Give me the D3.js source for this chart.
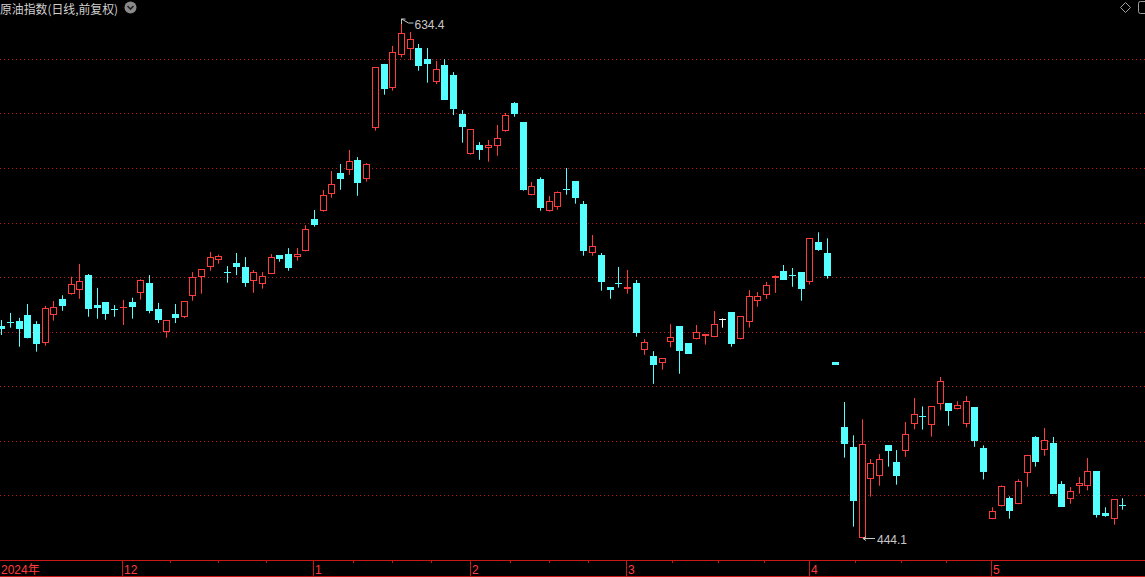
<!DOCTYPE html>
<html><head><meta charset="utf-8">
<script src="https://cdn.jsdelivr.net/npm/d3@7"></script>
<style>html,body{margin:0;padding:0;background:#000;overflow:hidden}</style>
</head><body><svg id="c" width="1145" height="577"></svg>
<script>
const title = "原油指数(日线,前复权)";
const dates = [
"2024-11-12","2024-11-13","2024-11-14","2024-11-15","2024-11-18","2024-11-19","2024-11-20","2024-11-21","2024-11-22","2024-11-25","2024-11-26","2024-11-27","2024-11-28","2024-11-29",
"2024-12-02","2024-12-03","2024-12-04","2024-12-05","2024-12-06","2024-12-09","2024-12-10","2024-12-11","2024-12-12","2024-12-13","2024-12-16","2024-12-17","2024-12-18","2024-12-19","2024-12-20","2024-12-23","2024-12-24","2024-12-25","2024-12-26","2024-12-27","2024-12-30","2024-12-31",
"2025-01-02","2025-01-03","2025-01-06","2025-01-07","2025-01-08","2025-01-09","2025-01-10","2025-01-13","2025-01-14","2025-01-15","2025-01-16","2025-01-17","2025-01-20","2025-01-21","2025-01-22","2025-01-23","2025-01-24","2025-01-27",
"2025-02-05","2025-02-06","2025-02-07","2025-02-10","2025-02-11","2025-02-12","2025-02-13","2025-02-14","2025-02-17","2025-02-18","2025-02-19","2025-02-20","2025-02-21","2025-02-24","2025-02-25","2025-02-26","2025-02-27","2025-02-28",
"2025-03-03","2025-03-04","2025-03-05","2025-03-06","2025-03-07","2025-03-10","2025-03-11","2025-03-12","2025-03-13","2025-03-14","2025-03-17","2025-03-18","2025-03-19","2025-03-20","2025-03-21","2025-03-24","2025-03-25","2025-03-26","2025-03-27","2025-03-28","2025-03-31",
"2025-04-01","2025-04-02","2025-04-03","2025-04-07","2025-04-08","2025-04-09","2025-04-10","2025-04-11","2025-04-14","2025-04-15","2025-04-16","2025-04-17","2025-04-18","2025-04-21","2025-04-22","2025-04-23","2025-04-24","2025-04-25","2025-04-28","2025-04-29","2025-04-30",
"2025-05-06","2025-05-07","2025-05-08","2025-05-09","2025-05-12","2025-05-13","2025-05-14","2025-05-15","2025-05-16","2025-05-19","2025-05-20","2025-05-21","2025-05-22","2025-05-23","2025-05-26","2025-05-27"
];
const open = [522.0,523.5,523.8,526.0,522.7,515.9,526.2,531.9,533.9,535.3,540.7,529.6,530.8,528.2,528.8,530.8,534.2,537.8,528.2,519.9,526.4,525.3,533.1,539.9,543.8,546.1,541.8,545.1,543.7,538.4,537.5,541.2,548.0,548.4,547.2,549.4,561.3,564.3,570.3,578.2,579.4,582.9,575.9,594.6,618.2,609.5,621.6,623.8,624.0,620.0,611.7,617.8,614.1,599.8,585.2,588.4,587.2,588.2,593.7,603.9,596.9,570.0,576.0,564.3,565.8,572.4,575.2,566.8,548.9,548.1,536.3,537.9,535.5,537.8,513.1,511.0,508.3,516.0,522.0,515.7,517.1,518.3,517.9,524.6,527.1,517.1,523.4,531.3,533.3,539.7,542.1,540.7,541.8,538.1,552.7,548.8,508.8,484.9,477.5,444.1,465.8,467.1,478.2,472.1,476.0,485.9,489.0,485.6,493.3,493.6,491.4,485.9,492.2,477.2,451.1,455.8,458.8,456.6,468.0,481.3,476.4,479.1,464.0,458.6,463.2,463.2,468.8,453.3,451.1,456.5];
const high = [524.2,526.8,525.0,530.1,523.8,529.4,531.2,533.3,540.1,544.8,541.1,536.0,530.8,529.7,531.6,532.4,539.2,540.7,530.5,524.1,530.1,531.1,541.8,542.9,549.2,548.2,544.0,548.8,547.3,542.6,541.8,548.4,548.0,550.6,550.6,559.0,564.6,571.9,578.9,581.5,586.6,584.0,581.8,617.0,618.2,624.8,634.4,629.9,625.5,624.0,619.3,619.9,615.2,601.3,594.3,589.5,590.3,595.8,600.2,604.2,596.9,574.9,576.6,569.7,571.4,580.0,575.2,567.9,555.4,548.8,536.3,543.7,542.6,538.9,517.2,512.8,510.2,522.7,522.0,515.7,522.4,519.0,527.5,524.8,527.1,525.6,535.2,534.5,538.2,540.6,544.4,543.3,541.8,554.2,556.4,554.2,508.8,494.1,481.9,487.8,473.2,475.0,478.2,476.5,486.8,495.6,492.5,492.5,503.3,493.6,494.4,496.3,492.2,478.2,455.5,463.5,459.5,465.8,474.7,481.6,484.6,481.3,465.1,462.9,466.6,473.6,468.8,455.5,458.4,458.8];
const low = [518.7,521.4,514.4,517.5,512.6,514.8,524.0,527.6,533.5,532.0,525.4,524.7,524.3,525.4,522.4,524.7,531.7,526.7,523.1,517.7,523.1,524.9,531.3,533.9,542.3,544.9,537.9,540.7,536.4,534.2,535.7,541.2,545.6,542.3,546.0,549.4,558.5,564.0,569.1,572.0,577.5,569.8,575.0,593.7,606.9,608.4,620.6,619.6,615.7,611.3,610.8,605.0,599.4,589.3,584.9,583.0,582.3,584.5,593.3,598.8,571.7,570.0,564.3,564.0,564.7,570.2,566.9,547.8,547.8,535.0,532.0,536.1,533.9,518.1,511.4,500.8,506.0,514.2,504.5,511.8,517.1,515.2,517.9,521.4,514.4,517.1,521.4,529.1,532.0,534.2,539.0,536.4,531.3,537.2,549.6,539.4,507.8,473.7,448.4,444.1,459.4,463.4,470.4,463.8,474.0,484.1,484.0,481.4,491.1,485.4,491.4,484.8,477.7,465.7,451.1,455.8,451.3,456.6,463.0,470.4,474.4,460.5,455.7,456.8,460.5,461.7,451.7,452.0,449.1,454.6];
const close = [520.8,523.3,520.9,517.7,515.5,528.6,528.9,529.5,537.3,538.4,528.4,528.7,526.5,528.0,529.0,529.1,538.9,527.5,524.2,524.1,524.9,531.1,540.0,542.9,547.3,547.7,541.6,543.8,537.9,541.7,540.3,547.3,546.7,543.4,548.3,557.5,559.2,570.0,574.0,576.1,582.5,574.6,581.4,617.0,609.0,622.5,629.4,627.2,617.5,618.3,616.2,605.0,601.8,595.2,594.3,586.7,588.4,591.0,599.3,599.9,572.0,573.3,565.4,567.9,571.1,572.2,569.1,549.5,551.4,538.3,535.3,537.7,536.2,519.6,516.0,507.8,510.2,517.9,512.9,511.8,519.7,519.0,522.6,524.6,515.5,525.6,532.9,532.9,537.0,540.3,539.0,540.5,535.7,554.2,550.0,540.5,507.8,478.8,457.9,478.6,471.6,473.1,476.3,467.1,482.3,489.6,488.8,492.5,501.7,490.9,492.9,494.4,479.9,468.5,454.0,463.2,454.2,465.0,474.7,472.2,480.1,460.5,455.7,461.5,464.3,468.7,452.8,452.4,458.4,456.3];
const gridValues = [460,480,500,520,540,560,580,600,620];

const W = 1145, H = 577;
const UP = "#ff3c3c", DOWN = "#54ffff", FLAT = "#ffffff";
const svg = d3.select("#c");
svg.append("rect").attr("width", W).attr("height", H).attr("fill", "#000");

const step = 8.69;
const x = d3.scaleBand().domain(dates).range([1.2 - step/2, 1.2 - step/2 + step*dates.length]).paddingInner(0);
const cx = d => x(d) + x.bandwidth()/2;
const y = d3.scaleLinear().domain([440, 640]).range([549.5, 4.5]);

// grid
svg.append("g").selectAll("line").data(gridValues).join("line")
  .attr("x1", 0).attr("x2", W)
  .attr("y1", d => Math.round(y(d)) + 0.5).attr("y2", d => Math.round(y(d)) + 0.5)
  .attr("stroke", "#c01818").attr("stroke-width", 1).attr("stroke-dasharray", "1,3");

const data = dates.map((d, i) => ({d, o: open[i], h: high[i], l: low[i], c: close[i]}));
const col = k => k.c > k.o ? UP : (k.c < k.o ? DOWN : FLAT);

const g = svg.append("g");
const cands = g.selectAll("g").data(data).join("g");
cands.append("line")
  .attr("x1", k => Math.round(cx(k.d)) + 0.5).attr("x2", k => Math.round(cx(k.d)) + 0.5)
  .attr("y1", k => y(k.h)).attr("y2", k => y(k.l))
  .attr("stroke", col).attr("stroke-width", 1);
cands.each(function(k) {
  const sel = d3.select(this);
  const px = Math.round(cx(k.d));
  const top = y(Math.max(k.o, k.c)), bot = y(Math.min(k.o, k.c));
  const hgt = bot - top;
  if (hgt < 1.6) {
    sel.append("rect").attr("x", px - 3).attr("width", 7)
      .attr("y", Math.round((top + bot) / 2)).attr("height", 1).attr("fill", col(k));
  } else if (k.c > k.o) {
    sel.append("rect").attr("x", px - 2.5).attr("width", 6)
      .attr("y", Math.round(top) + 0.5).attr("height", Math.max(1, Math.round(bot) - Math.round(top) - 1))
      .attr("fill", "#000").attr("stroke", UP).attr("stroke-width", 1);
  } else {
    sel.append("rect").attr("x", px - 3).attr("width", 7)
      .attr("y", Math.round(top)).attr("height", Math.max(1, Math.round(bot) - Math.round(top)))
      .attr("fill", DOWN);
  }
});

// high / low markers
const iMax = d3.maxIndex(high), iMin = d3.minIndex(low);
const hx = Math.round(cx(dates[iMax])) + 0.5, hy = Math.round(y(high[iMax]));
svg.append("path").attr("d", `M${hx},${hy-1} v5 M${hx},${hy-1} h4 M${hx},${hy-1} l7,4 h5`)
  .attr("stroke", "#c8c8c8").attr("fill", "none").attr("stroke-width", 1);
svg.append("text").attr("x", hx + 13).attr("y", hy + 9).text(high[iMax].toFixed(1))
  .attr("fill", "#c8c8c8").attr("font-family", "Liberation Sans, Arial, sans-serif").attr("font-size", 12);
const lx = Math.round(cx(dates[iMin])) + 1, ly = Math.round(y(low[iMin])) + 0.5;
svg.append("path").attr("d", `M${lx},${ly} h12 M${lx},${ly} l3,-2 M${lx},${ly} l3,2`)
  .attr("stroke", "#c8c8c8").attr("fill", "none").attr("stroke-width", 1);
svg.append("text").attr("x", lx + 14).attr("y", ly + 5.5).text(low[iMin].toFixed(1))
  .attr("fill", "#c8c8c8").attr("font-family", "Liberation Sans, Arial, sans-serif").attr("font-size", 12);

// title
svg.append("text").attr("x", 0).attr("y", 14).text(title)
  .attr("textLength", 118).attr("lengthAdjust", "spacingAndGlyphs")
  .attr("fill", "#d0d0d0").attr("font-family", "Noto Sans CJK SC, sans-serif").attr("font-size", 12);
svg.append("circle").attr("cx", 130.5).attr("cy", 7.5).attr("r", 6).attr("fill", "#8a8a8a");
svg.append("path").attr("d", "M127.5,6 l3,3 l3,-3").attr("stroke", "#222").attr("stroke-width", 1.6).attr("fill", "none");

// top right icons
svg.append("path").attr("d", "M1125.5,2.5 l5,5 l-5,5 l-5,-5 z").attr("stroke", "#a0a0a0").attr("fill", "none");
svg.append("rect").attr("x", 1138.5).attr("y", 1.5).attr("width", 10).attr("height", 12).attr("rx", 2)
  .attr("stroke", "#a0a0a0").attr("fill", "none");

// x axis
const AX = "#c81818", AXT = "#ff3c3c";
const ax = svg.append("g");
ax.append("line").attr("x1", 0).attr("x2", W).attr("y1", 560.5).attr("y2", 560.5).attr("stroke", AX);
ax.append("line").attr("x1", 0).attr("x2", W).attr("y1", 576.5).attr("y2", 576.5).attr("stroke", AX);
const monthStarts = [];
dates.forEach((d, i) => {
  if (i === 0 || d.slice(0, 7) !== dates[i - 1].slice(0, 7)) monthStarts.push({d, i});
});
const tickX = m => Math.round(cx(m.d) - 0.6) + 0.5;
monthStarts.forEach((m, j) => {
  const tx = tickX(m);
  if (j > 0) ax.append("line").attr("x1", tx).attr("x2", tx).attr("y1", 561).attr("y2", 576).attr("stroke", AX);
  const lab = j === 0 ? m.d.slice(0, 4) + "年" : String(+m.d.slice(5, 7));
  ax.append("text").attr("x", j === 0 ? 1 : tx + 1.5).attr("y", 573.5).text(lab)
    .attr("fill", AXT).attr("font-family", "Liberation Sans, Noto Sans CJK SC, sans-serif").attr("font-size", 12);
  if (j > 0 && j < monthStarts.length - 1) {
    const nx = tickX(monthStarts[j + 1]);
    for (let q = 1; q < 4; q++) {
      const mx = Math.round(tx + (nx - tx) * q / 4) + 0.5;
      ax.append("line").attr("x1", mx).attr("x2", mx).attr("y1", 561).attr("y2", 563).attr("stroke", AX);
    }
  }
});
</script>
</body></html>
